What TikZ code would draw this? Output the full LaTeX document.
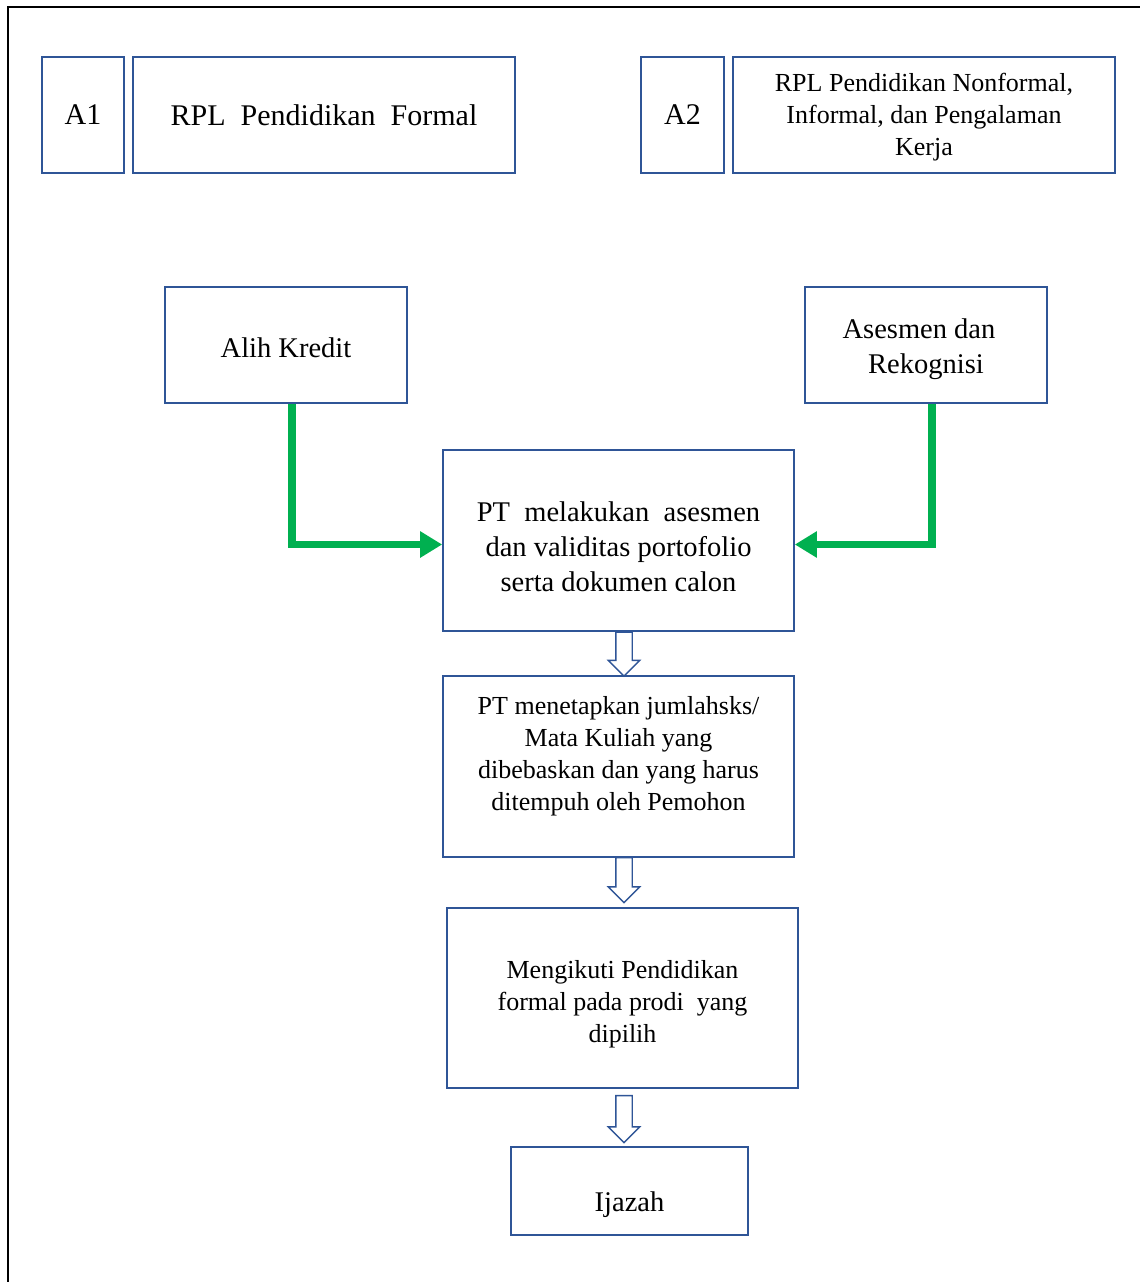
\documentclass[tikz,border=0pt]{standalone}
\usepackage{fontspec}
\setmainfont{Liberation Serif}
\usetikzlibrary{arrows.meta,shapes.arrows}
\definecolor{boxblue}{RGB}{47,85,151}
\definecolor{arrgreen}{RGB}{0,176,80}

\begin{document}
\begin{tikzpicture}[x=1pt,y=-1pt,
	flowbox/.style={rectangle, draw=boxblue, line width=1.6pt, inner sep=0pt, align=center, font=\fontsize{28.5}{35}\selectfont},
	smalltxt/.style={font=\fontsize{26}{32}\selectfont},
	hollow/.style={single arrow, draw=boxblue, fill=white, line width=1.4pt, inner sep=7.5pt, minimum width=30pt, minimum height=44pt, single arrow head extend=7.5pt, shape border rotate=270},
	greenarr/.style={draw=arrgreen, line width=7.5pt, -{Triangle[length=22pt,width=25pt]}}]
	\useasboundingbox (0,0) rectangle (1140,1282);
	\draw[line width=1.5pt] (8,1282) -- (8,7) -- (1140,7);
	% top row
	\node[flowbox, minimum width=82pt, minimum height=116pt, font=\fontsize{30}{36}\selectfont] (afirst) at (83,115) {A1};
	\node[flowbox, minimum width=382pt, minimum height=116pt, font=\fontsize{30}{36}\selectfont] (formal) at (324,115) {RPL\ \ Pendidikan\ \ Formal};
	\node[flowbox, minimum width=83pt, minimum height=116pt, font=\fontsize{30}{36}\selectfont] (asecond) at (682.5,115) {A2};
	\node[flowbox, smalltxt, minimum width=382pt, minimum height=116pt] (nonformal) at (924,115) {\raisebox{-2pt}[\height][\depth]{\begin{tabular}{@{}c@{}}RPL Pendidikan Nonformal,\\Informal, dan Pengalaman\\Kerja\end{tabular}}};
	% routes
	\node[flowbox, minimum width=242pt, minimum height=116pt] (alih) at (286,345) {\raisebox{-3pt}[\height][\depth]{Alih Kredit}};
	\node[flowbox, minimum width=242pt, minimum height=116pt] (asesmen) at (926,345) {\raisebox{-4pt}[\height][\depth]{\begin{tabular}{@{}c@{}}\hspace*{-14pt}Asesmen dan\\Rekognisi\end{tabular}}};
	% main flow
	\node[flowbox, minimum width=351pt, minimum height=181pt] (ptasm) at (618.5,540.5) {\raisebox{-9pt}[\height][\depth]{\begin{tabular}{@{}c@{}}PT\ \ melakukan\ \ asesmen\\dan validitas portofolio\\serta\ dokumen\ calon\end{tabular}}};
	\node[flowbox, smalltxt, minimum width=351pt, minimum height=181pt] (sks) at (618.5,766.5) {\raisebox{10pt}[\height][\depth]{\begin{tabular}{@{}c@{}}PT menetapkan jumlahsks/\\Mata Kuliah yang\\dibebaskan dan yang harus\\ditempuh oleh Pemohon\end{tabular}}};
	\node[flowbox, smalltxt, minimum width=351pt, minimum height=180pt] (ikut) at (622.5,998) {\raisebox{-6pt}[\height][\depth]{\begin{tabular}{@{}c@{}}Mengikuti Pendidikan\\formal pada prodi\ \ yang\\dipilih\end{tabular}}};
	\node[flowbox, minimum width=237pt, minimum height=88pt] (ijazah) at (629.5,1191) {\raisebox{-14pt}[\height][\depth]{Ijazah}};
	% hollow arrows
	\node[hollow] (down1) at (624,650) {};
	\node[hollow, minimum height=45pt] (down2) at (624,876) {};
	\node[hollow, minimum height=47pt] (down3) at (624,1115) {};
	% green connectors
	\draw[greenarr] ([xshift=6pt]alih.south) |- ([yshift=-4pt]ptasm.west);
	\draw[greenarr] ([xshift=6pt]asesmen.south) |- ([yshift=-4pt]ptasm.east);
\end{tikzpicture}
\end{document}
